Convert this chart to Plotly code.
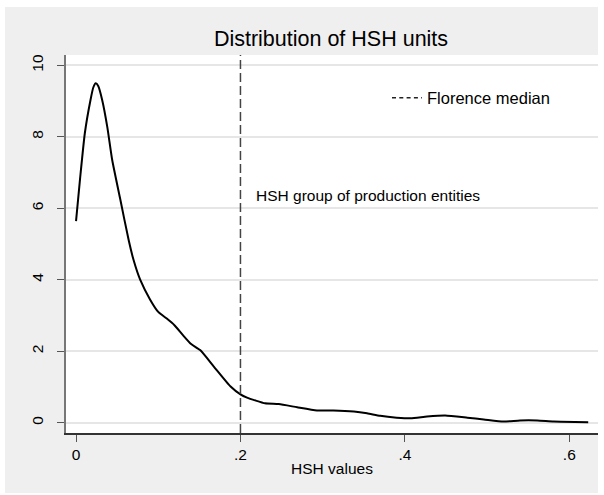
import plotly.graph_objects as go

# ---- data ----
hsh_x = [0, 0.005, 0.0107, 0.0176, 0.021, 0.024, 0.027, 0.0318, 0.038, 0.044, 0.054,
         0.064, 0.07, 0.078, 0.09, 0.1, 0.11, 0.12, 0.13, 0.14, 0.151, 0.1676, 0.188,
         0.2, 0.208, 0.23, 0.2466, 0.269, 0.293, 0.313, 0.338, 0.354, 0.37, 0.39,
         0.407, 0.427, 0.449, 0.476, 0.496, 0.52, 0.54, 0.561, 0.581, 0.623]
density_y = [5.64, 6.85, 8.10, 9.03, 9.38, 9.50, 9.42, 9.03, 8.28, 7.35, 6.23,
             5.11, 4.55, 4.0, 3.45, 3.1, 2.92, 2.72, 2.45, 2.2, 2.03, 1.57, 1.01,
             0.79, 0.70, 0.54, 0.52, 0.43, 0.34, 0.34, 0.31, 0.26, 0.19, 0.14,
             0.12, 0.17, 0.20, 0.14, 0.09, 0.03, 0.06, 0.06, 0.03, 0.01]
median_x = 0.2
x_ticks = [0, 0.2, 0.4, 0.6]
x_tick_labels = ["0", ".2", ".4", ".6"]
y_ticks = [0, 2, 4, 6, 8, 10]
y_tick_labels = ["0", "2", "4", "6", "8", "10"]
y_range = [-0.29, 10.29]
x_range = [-0.0122, 0.6349]

FONT = "Liberation Sans, Arial, sans-serif"

fig = go.Figure()

fig.add_trace(go.Scatter(
    x=hsh_x, y=density_y, mode="lines",
    line=dict(color="black", width=2, shape="spline", smoothing=0.5),
    showlegend=False, hoverinfo="skip"))

# vertical median line
fig.add_trace(go.Scatter(
    x=[median_x, median_x], y=y_range, mode="lines",
    line=dict(color="#444444", width=1.5, dash="9px,4px"),
    showlegend=False, hoverinfo="skip"))

# legend entry
fig.add_trace(go.Scatter(
    x=[None], y=[None], mode="lines", name="Florence median",
    line=dict(color="#222222", width=1.3, dash="4px,3.3px")))

fig.add_annotation(
    x=0.217, y=6.36, xref="x", yref="y", text="HSH group of production entities",
    showarrow=False, xanchor="left", yanchor="middle",
    font=dict(family=FONT, size=15.5, color="black"))

# page layout: white page border around a grey graph region at (5,7)-(598,493)
OX, OY = 5, 7
W, H = 593, 486
PL, PR, PT, PB = 66, 598, 55, 433   # plot area in page pixels
L, R, T, B = PL - OX, OX + W - PR, PT - OY, OY + H - PB
pw, ph = PR - PL, PB - PT

def px2paper_x(p):
    return (p - PL) / pw

def px2paper_y(p):
    return (PB - p) / ph

fig.update_layout(
    width=W, height=H,
    margin=dict(l=L, r=R, t=T, b=B, pad=0),
    paper_bgcolor="#efefef", plot_bgcolor="white",
    font=dict(family=FONT, color="black"),
    title=dict(text="Distribution of HSH units", x=px2paper_x(331), xref="paper",
               xanchor="center", y=1 - (38.5 - OY) / H, yanchor="middle",
               font=dict(family=FONT, size=21.5, color="black")),
    legend=dict(x=px2paper_x(387), y=px2paper_y(98), xanchor="left", yanchor="middle",
                bgcolor="rgba(0,0,0,0)", font=dict(family=FONT, size=16.5, color="black"),
                itemwidth=30),
    xaxis=dict(range=x_range, tickvals=x_ticks, ticktext=x_tick_labels,
               showgrid=False, zeroline=False, showline=True, linecolor="#333333",
               linewidth=1.5, ticks="outside", ticklen=7, tickcolor="#555555",
               tickwidth=1.2, tickfont=dict(family=FONT, size=15.5, color="black"),
               title=dict(text="HSH values", font=dict(family=FONT, size=15.5, color="black"),
                          standoff=1)),
    yaxis=dict(range=y_range, tickvals=y_ticks, ticktext=y_tick_labels,
               showgrid=True, gridcolor="#e6e6e6", gridwidth=1.5, zeroline=False,
               showline=True, linecolor="#777777", linewidth=1.5, ticks="outside",
               ticklen=7, tickcolor="#555555", tickwidth=1.2, tickangle=-90,
               tickfont=dict(family=FONT, size=15.5, color="black"),
               ticklabelstandoff=8),
)

fig.write_html(
    "out.html",
    post_script="document.body.style.margin='%dpx 0px 0px %dpx';"
                "document.body.style.overflow='hidden';"
                "document.body.style.background='white';" % (OY, OX),
)
